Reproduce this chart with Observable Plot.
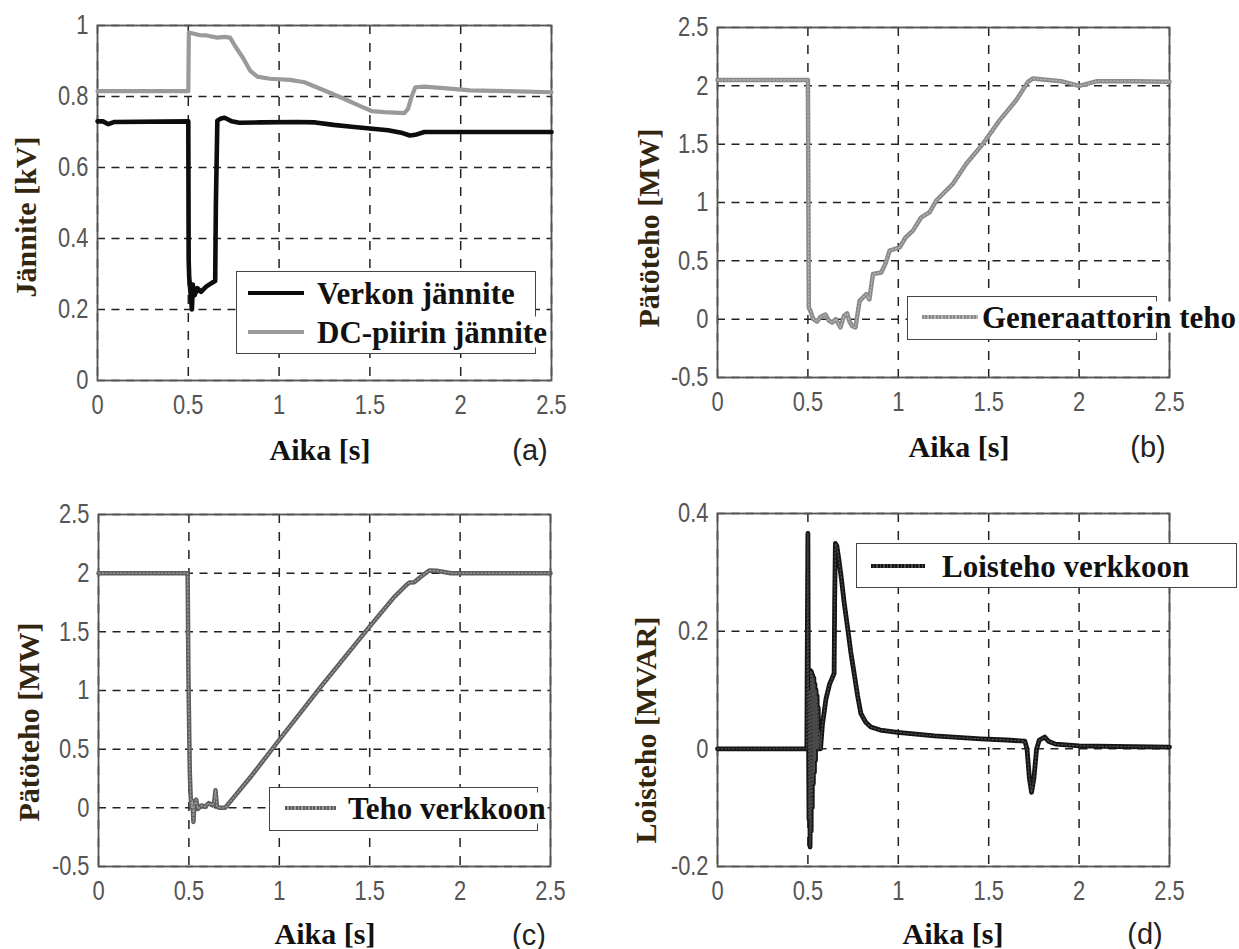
<!DOCTYPE html>
<html><head><meta charset="utf-8">
<script src="https://cdn.jsdelivr.net/npm/d3@7"></script>
<script src="https://cdn.jsdelivr.net/npm/@observablehq/plot@0.6"></script>
<style>
html,body{margin:0;padding:0;background:#fff;}
#root{position:relative;width:1239px;height:949px;overflow:hidden;background:#fff;}
.panel{position:absolute;}
.lbl{position:absolute;font-family:'Liberation Serif','Times New Roman',serif;font-weight:bold;font-size:30px;color:#111;white-space:nowrap;line-height:1;transform:translate(-50%,-50%);}
.ylbl{transform:translate(-50%,-50%) rotate(-90deg);color:#33260f;}
.tag{position:absolute;font-family:'Liberation Sans',Arial,sans-serif;font-size:29px;color:#222;line-height:1;transform:translate(-50%,-50%);white-space:nowrap;}
.legbox{position:absolute;border:1.5px solid #444;background:#fff;box-sizing:border-box;}
.legline{position:absolute;height:4px;}
.legtext{position:absolute;font-family:'Liberation Serif','Times New Roman',serif;font-weight:bold;font-size:31px;color:#111;background:#fff;white-space:nowrap;line-height:1;transform:translateY(-50%);}
</style></head><body><div id="root"></div>
<script>
// ---- tick values ----
const xTicks = [0, 0.5, 1, 1.5, 2, 2.5];
const yTicksA = [0, 0.2, 0.4, 0.6, 0.8, 1];
const yTicksP = [-0.5, 0, 0.5, 1, 1.5, 2, 2.5];
const yTicksQ = [-0.2, 0, 0.2, 0.4];

// ---- (a) Verkon jännite ----
const tGrid = [0, 0.03, 0.06, 0.09, 0.5, 0.502, 0.505, 0.51, 0.52, 0.525, 0.535, 0.55, 0.57, 0.6, 0.63, 0.648, 0.652, 0.66, 0.68, 0.7, 0.74, 0.78, 0.9, 1.1, 1.2, 1.3, 1.4, 1.5, 1.6, 1.68, 1.72, 1.75, 1.8, 2.0, 2.5];
const vGrid = [0.73, 0.73, 0.722, 0.728, 0.73, 0.34, 0.29, 0.26, 0.2, 0.27, 0.24, 0.26, 0.25, 0.265, 0.275, 0.28, 0.5, 0.732, 0.738, 0.74, 0.73, 0.726, 0.727, 0.728, 0.727, 0.72, 0.715, 0.71, 0.705, 0.697, 0.69, 0.692, 0.7, 0.7, 0.7];
// ---- (a) DC-piirin jännite ----
const tDC = [0, 0.5, 0.503, 0.52, 0.56, 0.6, 0.66, 0.7, 0.73, 0.76, 0.8, 0.84, 0.88, 0.95, 1.06, 1.14, 1.25, 1.36, 1.45, 1.51, 1.58, 1.69, 1.71, 1.73, 1.75, 1.8, 1.94, 2.05, 2.25, 2.5];
const vDC = [0.815, 0.815, 0.98, 0.978, 0.973, 0.972, 0.966, 0.968, 0.966, 0.94, 0.91, 0.873, 0.856, 0.85, 0.847, 0.84, 0.817, 0.793, 0.772, 0.759, 0.756, 0.753, 0.765, 0.8, 0.826, 0.828, 0.822, 0.817, 0.815, 0.812];
// ---- (b) Generaattorin teho ----
const tGen = [0, 0.5, 0.505, 0.514, 0.53, 0.551, 0.57, 0.597, 0.615, 0.634, 0.655, 0.68, 0.7, 0.717, 0.73, 0.745, 0.763, 0.786, 0.823, 0.84, 0.86, 0.906, 0.93, 0.952, 1.008, 1.04, 1.081, 1.127, 1.173, 1.21, 1.302, 1.376, 1.468, 1.56, 1.652, 1.717, 1.745, 1.8, 1.9, 2.0, 2.1, 2.3, 2.5];
const vGen = [2.05, 2.05, 0.1, 0.07, 0.0, -0.02, 0.02, 0.04, -0.01, -0.03, 0.0, -0.07, 0.03, 0.05, -0.02, -0.06, -0.07, 0.157, 0.215, 0.17, 0.387, 0.40, 0.48, 0.587, 0.615, 0.70, 0.759, 0.873, 0.916, 1.017, 1.16, 1.332, 1.503, 1.704, 1.876, 2.034, 2.063, 2.055, 2.04, 2.0, 2.04, 2.04, 2.035];
// ---- (c) Teho verkkoon ----
const tNet = [0, 0.493, 0.497, 0.5, 0.505, 0.51, 0.515, 0.52, 0.525, 0.53, 0.54, 0.55, 0.57, 0.59, 0.61, 0.63, 0.64, 0.647, 0.655, 0.67, 0.70, 0.85, 0.998, 1.229, 1.497, 1.635, 1.70, 1.72, 1.746, 1.783, 1.829, 1.87, 1.95, 2.1, 2.5];
const vNet = [2.0, 2.0, 1.2, 0.83, 0.3, 0.09, 0.0, 0.06, -0.12, 0.02, 0.07, -0.01, 0.02, 0.01, 0.04, 0.02, 0.05, 0.15, 0.01, 0.0, 0.0, 0.28, 0.576, 1.03, 1.54, 1.796, 1.895, 1.92, 1.923, 1.97, 2.023, 2.02, 2.0, 2.0, 2.0];
// ---- (d) Loisteho verkkoon (dense oscillation read around 0.5–0.57 s) ----
const tQ = [0, 0.494, 0.497, 0.5, 0.503, 0.506, 0.509, 0.512, 0.515, 0.518, 0.521, 0.524, 0.527, 0.53, 0.533, 0.536, 0.539, 0.542, 0.545, 0.548, 0.551, 0.554, 0.557, 0.56, 0.565, 0.57, 0.58, 0.6, 0.62, 0.645, 0.648, 0.652, 0.66, 0.672, 0.685, 0.70, 0.719, 0.737, 0.756, 0.775, 0.793, 0.82, 0.848, 0.9, 0.996, 1.2, 1.456, 1.6, 1.70, 1.712, 1.725, 1.737, 1.75, 1.765, 1.78, 1.81, 1.83, 1.87, 2.0, 2.2, 2.5];
const vQ = [0, 0, 0.2, 0.366, 0.05, -0.12, 0.1, -0.167, 0.133, -0.14, 0.13, -0.1, 0.125, -0.06, 0.12, -0.04, 0.11, -0.02, 0.1, 0.0, 0.09, 0.0, 0.07, 0.0, 0.03, 0.0, 0.04, 0.085, 0.11, 0.128, 0.25, 0.349, 0.345, 0.32, 0.29, 0.25, 0.207, 0.165, 0.128, 0.09, 0.06, 0.045, 0.037, 0.032, 0.028, 0.022, 0.017, 0.015, 0.013, 0.0, -0.05, -0.074, -0.05, 0.0, 0.015, 0.02, 0.013, 0.008, 0.005, 0.004, 0.003];

const rows = (ts, vs) => ts.map((t, i) => ({t, v: vs[i]}));
const root = document.getElementById("root");
const ML = 110, MT = 30, MR = 20, MB = 60;

function panel(frame, yDomain, yTicks, series) {
  const [x0, x1, y0, y1] = frame;
  const w = (x1 - x0) + ML + MR, h = (y1 - y0) + MT + MB;
  const marks = [
    Plot.gridX(xTicks, {stroke: "#222", strokeOpacity: 1, strokeWidth: 1.5, strokeDasharray: "9,9"}),
    Plot.gridY(yTicks, {stroke: "#222", strokeOpacity: 1, strokeWidth: 1.5, strokeDasharray: "8,6.5"}),
    Plot.frame({stroke: "#555", strokeWidth: 1.8}),
    Plot.axisX(xTicks, {tickSize: 0, tickPadding: 14, tickFormat: d => String(d), label: null}),
    Plot.axisY(yTicks, {tickSize: 0, tickPadding: 9, tickFormat: d => String(d), label: null})
  ];
  for (const s of series) {
    marks.push(Plot.line(rows(s.t, s.v), {x: "t", y: "v", stroke: s.color, strokeWidth: s.width, strokeLinejoin: "round", strokeLinecap: "round"}));
    if (s.bead) {
      marks.push(Plot.line(rows(s.t, s.v), {x: "t", y: "v", stroke: s.bead, strokeWidth: 1.3, strokeDasharray: "1.5,2.2"}));
    }
  }
  const svg = Plot.plot({
    width: w, height: h,
    marginLeft: ML, marginRight: MR, marginTop: MT, marginBottom: MB,
    x: {domain: [0, 2.5]},
    y: {domain: yDomain},
    style: {fontFamily: "'Liberation Sans',Arial,sans-serif", fontSize: "28px", color: "#555", background: "transparent", overflow: "visible"},
    marks
  });
  svg.classList.add("panel");
  svg.style.left = (x0 - ML) + "px";
  svg.style.top = (y0 - MT) + "px";
  root.appendChild(svg);
  // narrow the tick labels like the original figure's condensed font
  svg.querySelectorAll('g[aria-label$="tick label"] text').forEach(t => {
    const L = t.getComputedTextLength();
    if (L > 0) {
      t.setAttribute("textLength", (L * 0.78).toFixed(1));
      t.setAttribute("lengthAdjust", "spacingAndGlyphs");
    }
  });
}

panel([97, 551, 25, 380], [0, 1], yTicksA, [
  {t: tDC, v: vDC, color: "#9a9a9a", width: 4.2},
  {t: tGrid, v: vGrid, color: "#0d0d0d", width: 4.6}
]);
panel([717, 1169, 27, 377], [-0.5, 2.5], yTicksP, [
  {t: tGen, v: vGen, color: "#8a8a8a", width: 4.5, bead: "#b4b4b4"}
]);
panel([98, 550, 514, 866], [-0.5, 2.5], yTicksP, [
  {t: tNet, v: vNet, color: "#5e5e5e", width: 4.5, bead: "#9c9c9c"}
]);
panel([717, 1169, 513, 866], [-0.2, 0.4], yTicksQ, [
  {t: tQ, v: vQ, color: "#151515", width: 4.8, bead: "#4a4a4a"}
]);

function el(cls, text, css) {
  const d = document.createElement("div");
  d.className = cls;
  if (text != null) d.textContent = text;
  Object.assign(d.style, css);
  root.appendChild(d);
  return d;
}
// axis titles
el("lbl", "Aika [s]", {left: "320px", top: "450px"});
el("lbl", "Aika [s]", {left: "959px", top: "447px"});
el("lbl", "Aika [s]", {left: "325px", top: "934px"});
el("lbl", "Aika [s]", {left: "953px", top: "934px"});
el("lbl ylbl", "Jännite [kV]", {left: "26px", top: "217px"});
el("lbl ylbl", "Pätöteho [MW]", {left: "649px", top: "228px"});
el("lbl ylbl", "Pätöteho [MW]", {left: "29px", top: "722px"});
el("lbl ylbl", "Loisteho [MVAR]", {left: "646px", top: "730px"});
// panel tags
el("tag", "(a)", {left: "530px", top: "450px"});
el("tag", "(b)", {left: "1148px", top: "447px"});
el("tag", "(c)", {left: "529px", top: "935px"});
el("tag", "(d)", {left: "1145px", top: "934px"});

// legends
el("legbox", null, {left: "236px", top: "271px", width: "300px", height: "83px"});
el("legline", null, {left: "248px", top: "291px", width: "56px", background: "#0d0d0d"});
el("legline", null, {left: "248px", top: "330px", width: "56px", background: "#9a9a9a"});
el("legtext", "Verkon jännite", {left: "317px", top: "293px"});
el("legtext", "DC-piirin jännite", {left: "317px", top: "332px"});

el("legbox", null, {left: "907px", top: "296px", width: "250px", height: "44px"});
el("legline", null, {left: "922px", top: "315px", width: "56px", background: "repeating-linear-gradient(90deg,#8a8a8a 0 2px,#b4b4b4 2px 3.5px)"});
el("legtext", "Generaattorin teho", {left: "982px", top: "317px"});

el("legbox", null, {left: "269px", top: "787px", width: "269px", height: "44px"});
el("legline", null, {left: "285px", top: "806px", width: "51px", background: "repeating-linear-gradient(90deg,#5e5e5e 0 2px,#9c9c9c 2px 3.5px)"});
el("legtext", "Teho verkkoon", {left: "348px", top: "808px"});

el("legbox", null, {left: "856px", top: "543px", width: "381px", height: "45px"});
el("legline", null, {left: "871px", top: "564px", width: "54px", background: "repeating-linear-gradient(90deg,#151515 0 2px,#4a4a4a 2px 3.5px)"});
el("legtext", "Loisteho verkkoon", {left: "942px", top: "566px"});
</script></body></html>
